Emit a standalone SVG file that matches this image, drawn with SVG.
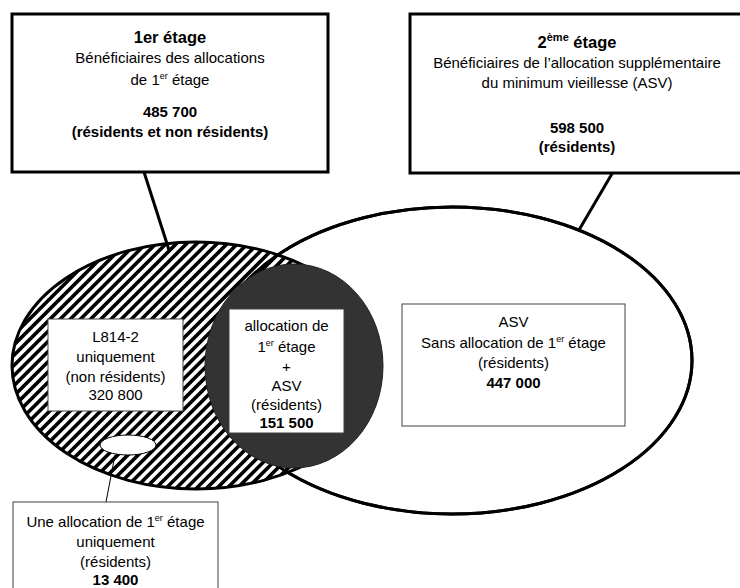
<svg xmlns="http://www.w3.org/2000/svg" width="740" height="588" viewBox="0 0 740 588">
<defs>
<pattern id="hatch" patternUnits="userSpaceOnUse" width="7.2" height="7.2" patternTransform="rotate(45)">
<rect x="0" y="0" width="7.2" height="7.2" fill="#fff"/>
<rect x="0" y="0" width="3.6" height="7.2" fill="#000"/>
</pattern>
<style>
text{font-family:"Liberation Sans",Arial,sans-serif;font-size:15px;fill:#000;text-anchor:middle}
.b{font-weight:bold}
.h{font-weight:bold;font-size:16.5px}
.big{fill:#fff;stroke:#000;stroke-width:3}
.inner{fill:#fff;stroke:#404040;stroke-width:1}
.sup{font-size:9px}
.conn{stroke:#000;fill:none}
</style>
</defs>
<rect width="740" height="588" fill="#fff"/>

<g id="ellipse-asv">
<ellipse cx="452" cy="360.5" rx="240" ry="153.5" fill="#fff" stroke="#000" stroke-width="3"/>
</g>
<g id="ellipse-1er">
<ellipse cx="196" cy="365.5" rx="184" ry="123.5" fill="url(#hatch)" stroke="#000" stroke-width="3"/>
</g>
<ellipse cx="452" cy="360.5" rx="240" ry="153.5" fill="none" stroke="#000" stroke-width="3"/>
<g id="ellipse-both">
<ellipse cx="294" cy="366" rx="89" ry="102" fill="#333" stroke="#222" stroke-width="1"/>
</g>
<g id="ellipse-small">
<ellipse cx="128" cy="445" rx="28" ry="10" fill="#fff" stroke="#000" stroke-width="1"/>
</g>

<g id="connectors">
<line class="conn" x1="144" y1="172" x2="169" y2="250" stroke-width="3"/>
<line class="conn" x1="613" y1="172" x2="579" y2="230" stroke-width="3"/>
<line class="conn" x1="115" y1="455" x2="106" y2="502" stroke-width="1"/>
</g>

<g id="box-1er">
<rect class="big" x="12" y="14" width="316" height="158"/>
<text class="h" x="170" y="43">1er étage</text>
<text x="170" y="63">Bénéficiaires des allocations</text>
<text x="170" y="85">de 1<tspan class="sup" dy="-6">er</tspan><tspan dy="6"> étage</tspan></text>
<text class="b" x="170" y="117">485 700</text>
<text class="b" x="170" y="137">(résidents et non résidents)</text>
</g>

<g id="box-2eme">
<rect class="big" x="410" y="14" width="336" height="159"/>
<text class="h" x="577" y="48">2<tspan font-size="11" dy="-7">ème</tspan><tspan dy="7"> étage</tspan></text>
<text x="577" y="68">Bénéficiaires de l’allocation supplémentaire</text>
<text x="577" y="88">du minimum vieillesse (ASV)</text>
<text class="b" x="577" y="133" font-size="16">598 500</text>
<text class="b" x="577" y="152" font-size="16">(résidents)</text>
</g>

<g id="box-l814">
<rect class="inner" x="48" y="319" width="135" height="92"/>
<text x="115.5" y="342">L814-2</text>
<text x="115.5" y="362">uniquement</text>
<text x="115.5" y="382">(non résidents)</text>
<text x="115.5" y="400">320 800</text>
</g>

<g id="box-both">
<rect class="inner" x="229" y="309" width="115" height="124"/>
<text x="286.5" y="331">allocation de</text>
<text x="286.5" y="352">1<tspan class="sup" dy="-6">er</tspan><tspan dy="6"> étage</tspan></text>
<text x="286.5" y="372">+</text>
<text x="286.5" y="391">ASV</text>
<text x="286.5" y="410">(résidents)</text>
<text class="b" x="286.5" y="428">151 500</text>
</g>

<g id="box-asv">
<rect class="inner" x="402" y="304" width="223" height="122"/>
<text x="513.5" y="327">ASV</text>
<text x="513.5" y="348">Sans allocation de 1<tspan class="sup" dy="-6">er</tspan><tspan dy="6"> étage</tspan></text>
<text x="513.5" y="368">(résidents)</text>
<text class="b" x="513.5" y="388">447 000</text>
</g>

<g id="box-13400">
<rect class="inner" x="13" y="502" width="205" height="100"/>
<text x="115.5" y="527">Une allocation de 1<tspan class="sup" dy="-6">er</tspan><tspan dy="6"> étage</tspan></text>
<text x="115.5" y="547">uniquement</text>
<text x="115.5" y="567">(résidents)</text>
<text class="b" x="115.5" y="585">13 400</text>
</g>
</svg>
